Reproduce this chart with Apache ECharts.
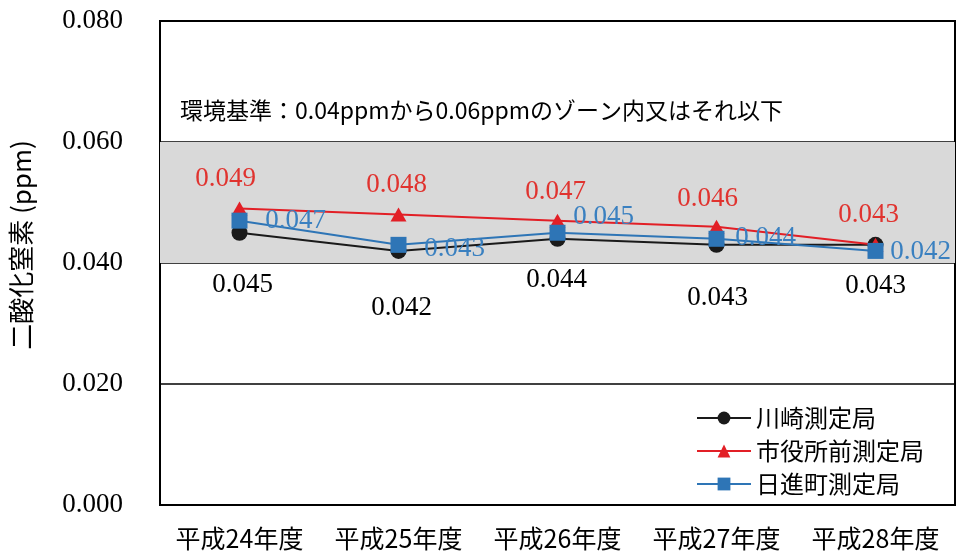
<!DOCTYPE html>
<html>
<head>
<meta charset="utf-8">
<script src="https://cdn.jsdelivr.net/npm/echarts@6/dist/echarts.min.js"></script>
<style>
  html, body { margin: 0; padding: 0; background: #fff; }
  #chart { width: 957px; height: 558px; }
</style>
</head>
<body>
<div id="chart"></div>
<script>
// Fiscal years (Heisei era)
const years = ['平成24年度', '平成25年度', '平成26年度', '平成27年度', '平成28年度'];

// Annual mean NO2 (ppm) at each monitoring station
const kawasaki = [0.045, 0.042, 0.044, 0.043, 0.043];
const shiyakusho = [0.049, 0.048, 0.047, 0.046, 0.043];
const nisshincho = [0.047, 0.043, 0.045, 0.044, 0.042];

const seriesNames = ['川崎測定局', '市役所前測定局', '日進町測定局'];

// Environmental standard zone (ppm)
const standardLow = 0.04;
const standardHigh = 0.06;
const standardNote = '環境基準：0.04ppmから0.06ppmのゾーン内又はそれ以下';

// Y axis range
const yMin = 0, yMax = 0.08, yStep = 0.02;

// Hand-placed label offsets (px) relative to each marker
const kawasakiLabelOffsets = [[3, 52], [3, 57], [-1, 41], [1, 53], [0, 41]];
const shiyakushoLabelOffsets = [[-14, -30], [-2, -30], [-2, -29], [-9, -28], [-7, -30]];
const nisshinchoLabelOffsets = [[56, 0], [56, 4], [46, -16], [49, -1], [45, 1]];

const numFont = '"Liberation Serif", "Noto Sans CJK JP", serif';
const jpFont = '"Noto Sans CJK JP", sans-serif';

function withOffsets(values, offsets) {
  return values.map((v, i) => ({
    value: v,
    label: { offset: offsets[i] }
  }));
}

const chart = echarts.init(document.getElementById('chart'), null, { renderer: 'canvas' });

chart.setOption({
  backgroundColor: '#ffffff',
  animation: false,
  grid: {
    left: 160, right: 2, top: 21, bottom: 53,
    show: true, borderColor: '#000', borderWidth: 2, backgroundColor: 'transparent'
  },
  legend: {
    orient: 'vertical',
    left: 691, top: 401,
    itemWidth: 54, itemHeight: 16, itemGap: 9,
    textStyle: { fontFamily: jpFont, fontSize: 24, color: '#000' },
    data: seriesNames
  },
  xAxis: {
    type: 'category',
    data: years,
    boundaryGap: true,
    axisLine: { show: true, lineStyle: { color: '#000', width: 2 } },
    axisTick: { show: false },
    axisLabel: { interval: 0, fontFamily: jpFont, fontSize: 25, color: '#000', margin: 21 }
  },
  yAxis: {
    type: 'value',
    min: yMin, max: yMax, interval: yStep,
    axisLine: { show: true, lineStyle: { color: '#000', width: 2 } },
    axisTick: { show: false },
    splitLine: { show: true, lineStyle: { color: '#000', width: 1.5 } },
    axisLabel: {
      fontFamily: numFont, fontSize: 27, color: '#000', margin: 37,
      formatter: v => v.toFixed(3)
    }
  },
  graphic: [
    {
      type: 'text',
      x: 21, y: 245,
      rotation: Math.PI / 2,
      style: {
        text: '二酸化窒素 (ppm)',
        fontFamily: jpFont, fontSize: 26, fill: '#000',
        align: 'center', verticalAlign: 'middle'
      }
    },
    {
      type: 'text',
      left: 180, top: 99,
      style: {
        text: standardNote,
        fontFamily: jpFont, fontSize: 23, fill: '#000'
      }
    }
  ],
  series: [
    {
      name: seriesNames[0],
      type: 'line',
      data: withOffsets(kawasaki, kawasakiLabelOffsets),
      symbol: 'circle', symbolSize: 16,
      lineStyle: { color: '#1a1a1a', width: 2 },
      itemStyle: { color: '#1a1a1a' },
      label: {
        show: true, position: 'inside',
        fontFamily: numFont, fontSize: 27, color: '#000',
        formatter: p => p.value.toFixed(3)
      },
      markArea: {
        silent: true,
        itemStyle: { color: '#d9d9d9' },
        data: [[{ yAxis: standardLow }, { yAxis: standardHigh }]]
      },
      z: 2
    },
    {
      name: seriesNames[1],
      type: 'line',
      data: withOffsets(shiyakusho, shiyakushoLabelOffsets),
      symbol: 'triangle', symbolSize: [16, 14],
      lineStyle: { color: '#e21f26', width: 2 },
      itemStyle: { color: '#e21f26' },
      label: {
        show: true, position: 'inside',
        fontFamily: numFont, fontSize: 27, color: '#e0332f',
        formatter: p => p.value.toFixed(3)
      },
      z: 3
    },
    {
      name: seriesNames[2],
      type: 'line',
      data: withOffsets(nisshincho, nisshinchoLabelOffsets),
      symbol: 'rect', symbolSize: 16,
      lineStyle: { color: '#2e75b6', width: 2 },
      itemStyle: { color: '#2e75b6' },
      label: {
        show: true, position: 'inside',
        fontFamily: numFont, fontSize: 27, color: '#3a80c0',
        formatter: p => p.value.toFixed(3)
      },
      z: 4
    }
  ]
});
</script>
</body>
</html>
